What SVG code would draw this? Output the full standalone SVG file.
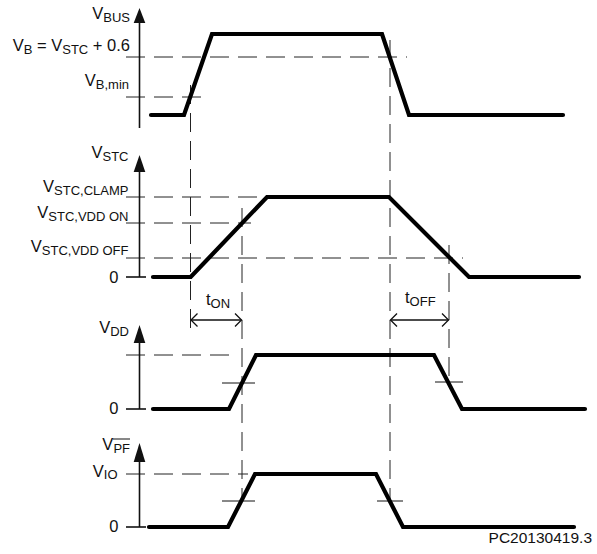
<svg xmlns="http://www.w3.org/2000/svg" width="597" height="554" viewBox="0 0 597 554">
<style>
text{font-family:"Liberation Sans",Arial,sans-serif;font-size:16.5px;fill:#111}
.s{font-size:13px}
.ax{stroke:#111;stroke-width:1.6;fill:none}
.dash{stroke:#222;stroke-width:1;fill:none;stroke-dasharray:19 9}
.tk{stroke:#111;stroke-width:1;fill:none}
.dim{stroke:#111;stroke-width:1.3;fill:none}
.wave{stroke:#000;stroke-width:4.2;fill:none;stroke-linecap:round;stroke-linejoin:miter}
.ah{fill:#111}
</style>
<rect width="597" height="554" fill="#fff"/>
<g id="connectors">
<line class="dash" x1="190.5" y1="85" x2="190.5" y2="333"/>
<line class="dash" x1="390" y1="40" x2="390" y2="501"/>
<line class="dash" x1="242" y1="208" x2="242" y2="502"/>
<line class="dash" x1="449" y1="245" x2="449" y2="381"/>
<line class="dash" x1="126" y1="57" x2="407" y2="57"/>
<line class="dash" x1="126" y1="97" x2="201" y2="97"/>
<line class="dash" x1="126" y1="197" x2="389" y2="197"/>
<line class="dash" x1="126" y1="223" x2="251" y2="223"/>
<line class="dash" x1="126" y1="258" x2="463" y2="258"/>
<line class="dash" x1="126" y1="355" x2="232" y2="355"/>
<line class="dash" x1="126" y1="474" x2="248" y2="474"/>
<line class="tk" x1="222" y1="383" x2="255" y2="383"/>
<line class="tk" x1="435" y1="382" x2="463" y2="382"/>
<line class="tk" x1="222" y1="501" x2="255" y2="501"/>
<line class="tk" x1="377" y1="501" x2="403" y2="501"/>
<line class="dim" x1="191" y1="320" x2="241.5" y2="320"/>
<polyline class="dim" points="197.5,313.5 191,320 197.5,326.5"/>
<polyline class="dim" points="235,313.5 241.5,320 235,326.5"/>
<line class="dim" x1="390.5" y1="320" x2="448.5" y2="320"/>
<polyline class="dim" points="397,313.5 390.5,320 397,326.5"/>
<polyline class="dim" points="442,313.5 448.5,320 442,326.5"/>
</g>
<g id="panel-vbus">
<line class="ax" x1="139.5" y1="20" x2="139.5" y2="128"/>
<path class="ah" d="M139.5,8 L145.3,23 L133.7,23 Z"/>
<polyline class="wave" points="151,115 184,115 212,34 382,34 409,115 563,115"/>
<text x="130" y="18.5" text-anchor="end">V<tspan class="s" dy="3">BUS</tspan></text>
<text x="130" y="50.5" text-anchor="end">V<tspan class="s" dy="3">B</tspan><tspan dy="-3"> = V</tspan><tspan class="s" dy="3">STC</tspan><tspan dy="-3"> + 0.6</tspan></text>
<text x="129" y="85.5" text-anchor="end">V<tspan class="s" dy="3">B,min</tspan></text>
</g>
<g id="panel-vstc">
<line class="ax" x1="139.5" y1="168" x2="139.5" y2="277"/>
<path class="ah" d="M139.5,155 L145.3,172 L133.7,172 Z"/>
<line class="ax" x1="126" y1="277" x2="146" y2="277"/>
<polyline class="wave" points="153,277 190.7,277 267,197 389,197 469,277 579,277"/>
<text x="128.5" y="158" text-anchor="end">V<tspan class="s" dy="3">STC</tspan></text>
<text x="128.5" y="191.5" text-anchor="end">V<tspan class="s" dy="3">STC,CLAMP</tspan></text>
<text x="128.5" y="217.5" text-anchor="end">V<tspan class="s" dy="3">STC,VDD ON</tspan></text>
<text x="128.5" y="251.5" text-anchor="end">V<tspan class="s" dy="3">STC,VDD OFF</tspan></text>
<text x="118.5" y="282.5" text-anchor="end">0</text>
<text x="206" y="305">t<tspan class="s" dy="3">ON</tspan></text>
<text x="405" y="303">t<tspan class="s" dy="3">OFF</tspan></text>
</g>
<g id="panel-vdd">
<line class="ax" x1="139.5" y1="338" x2="139.5" y2="409"/>
<path class="ah" d="M139.5,325 L145.3,343 L133.7,343 Z"/>
<line class="ax" x1="126" y1="409" x2="146" y2="409"/>
<polyline class="wave" points="153,409 229,409 256,355 434,355 462,409 585,409"/>
<text x="129" y="333" text-anchor="end">V<tspan class="s" dy="3">DD</tspan></text>
<text x="118.5" y="414" text-anchor="end">0</text>
</g>
<g id="panel-vpf">
<line class="ax" x1="139.5" y1="456" x2="139.5" y2="527"/>
<path class="ah" d="M139.5,443 L145.3,462 L133.7,462 Z"/>
<line class="ax" x1="126" y1="527" x2="146" y2="527"/>
<polyline class="wave" points="149,527 228,527 255,474 376,474 403,527 574,527"/>
<text x="130" y="450" text-anchor="end">V<tspan class="s" dy="3">PF</tspan></text>
<line x1="113" y1="439" x2="130" y2="439" stroke="#111" stroke-width="1"/>
<text x="117.5" y="477" text-anchor="end">V<tspan class="s" dy="2">IO</tspan></text>
<text x="118.5" y="532" text-anchor="end">0</text>
</g>
<text x="592" y="543" text-anchor="end" style="font-size:15.5px">PC20130419.3</text>
</svg>
